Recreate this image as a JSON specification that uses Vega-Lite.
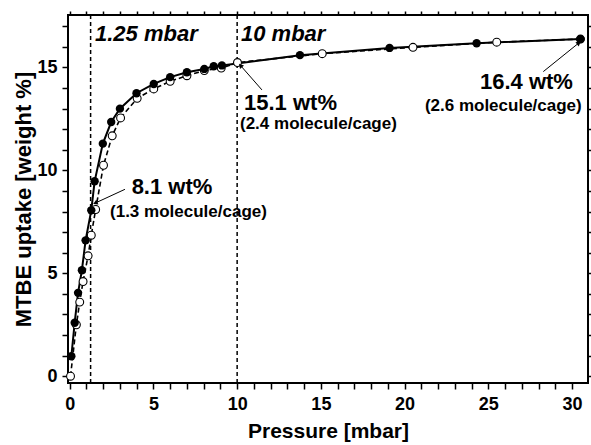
{
  "$schema": "https://vega.github.io/schema/vega-lite/v6.json",
  "width": 520,
  "height": 368,
  "autosize": "none",
  "padding": {"left": 68, "top": 15, "right": 3, "bottom": 62},
  "background": "white",
  "config": {
    "view": {"stroke": "black", "strokeWidth": 2},
    "font": "Liberation Sans",
    "axis": {
      "domain": false,
      "grid": false,
      "tickColor": "black",
      "tickWidth": 1.5,
      "tickSize": 6,
      "labelColor": "black",
      "labelFont": "Liberation Sans",
      "labelFontWeight": "bold",
      "labelFontSize": 18,
      "labelOverlap": false,
      "labelFlush": false,
      "titleFont": "Liberation Sans",
      "titleFontWeight": "bold",
      "titleColor": "black",
      "titleFontSize": 21
    }
  },
  "datasets": {
    "iso": [
      {"branch": "filled", "p": 0.1, "w": 0.97},
      {"branch": "filled", "p": 0.3, "w": 2.6},
      {"branch": "filled", "p": 0.5, "w": 4.05},
      {"branch": "filled", "p": 0.73, "w": 5.15},
      {"branch": "filled", "p": 0.95, "w": 6.6},
      {"branch": "filled", "p": 1.29, "w": 8.06},
      {"branch": "filled", "p": 1.49, "w": 9.47},
      {"branch": "filled", "p": 1.98, "w": 11.3},
      {"branch": "filled", "p": 2.48, "w": 12.35},
      {"branch": "filled", "p": 3.0, "w": 13.0},
      {"branch": "filled", "p": 3.99, "w": 13.75},
      {"branch": "filled", "p": 5.02, "w": 14.2},
      {"branch": "filled", "p": 6.0, "w": 14.53},
      {"branch": "filled", "p": 7.0, "w": 14.77},
      {"branch": "filled", "p": 8.04, "w": 14.93},
      {"branch": "filled", "p": 8.6, "w": 15.06},
      {"branch": "filled", "p": 9.09, "w": 15.1},
      {"branch": "filled", "p": 13.75, "w": 15.6},
      {"branch": "filled", "p": 19.1, "w": 15.95},
      {"branch": "filled", "p": 24.3, "w": 16.18},
      {"branch": "filled", "p": 30.5, "w": 16.38},
      {"branch": "open", "p": 0.05, "w": 0.0},
      {"branch": "open", "p": 0.4, "w": 2.5},
      {"branch": "open", "p": 0.6, "w": 3.6},
      {"branch": "open", "p": 0.8, "w": 4.6},
      {"branch": "open", "p": 1.1, "w": 5.85},
      {"branch": "open", "p": 1.29, "w": 6.85},
      {"branch": "open", "p": 1.55, "w": 8.1},
      {"branch": "open", "p": 2.02, "w": 10.25},
      {"branch": "open", "p": 2.54, "w": 11.68},
      {"branch": "open", "p": 3.04, "w": 12.55},
      {"branch": "open", "p": 4.03, "w": 13.5},
      {"branch": "open", "p": 5.02, "w": 13.96},
      {"branch": "open", "p": 6.0, "w": 14.33},
      {"branch": "open", "p": 7.0, "w": 14.6},
      {"branch": "open", "p": 8.04, "w": 14.85},
      {"branch": "open", "p": 9.05, "w": 14.97},
      {"branch": "open", "p": 10.02, "w": 15.24},
      {"branch": "open", "p": 15.08, "w": 15.67},
      {"branch": "open", "p": 20.5, "w": 15.98},
      {"branch": "open", "p": 25.5, "w": 16.23},
      {"branch": "open", "p": 30.5, "w": 16.38}
    ],
    "refs": [{"p": 1.25}, {"p": 10}],
    "pressureLabels": [
      {"p": 1.51, "w": 16.3, "label": "1.25 mbar"},
      {"p": 10.23, "w": 16.3, "label": "10 mbar"}
    ],
    "uptakeLabels": [
      {"p": 3.7, "w": 8.85, "label": "8.1 wt%"},
      {"p": 10.41, "w": 12.95, "label": "15.1 wt%"},
      {"p": 24.5, "w": 13.95, "label": "16.4 wt%"}
    ],
    "cageLabels": [
      {"p": 2.41, "w": 7.73, "label": "(1.3 molecule/cage)"},
      {"p": 10.17, "w": 12.01, "label": "(2.4 molecule/cage)"},
      {"p": 21.21, "w": 12.89, "label": "(2.6 molecule/cage)"}
    ],
    "arrows": [
      {"id": "a1", "p": 3.3, "w": 9.08, "p2": 1.57, "w2": 8.43},
      {"id": "a2", "p": 11.48, "w": 13.91, "p2": 10.23, "w2": 15.07},
      {"id": "a3", "p": 28.28, "w": 14.8, "p2": 30.37, "w2": 16.17}
    ]
  },
  "resolve": {"axis": {"x": "independent", "y": "independent"}},
  "layer": [
    {
      "data": {"name": "refs"},
      "mark": {"type": "rule", "color": "black", "strokeWidth": 1.5, "strokeDash": [4, 3]},
      "encoding": {
        "x": {"field": "p", "type": "quantitative", "scale": {"domain": [-0.1, 30.95], "nice": false, "zero": false}, "axis": null}
      }
    },
    {
      "data": {"name": "iso"},
      "transform": [{"filter": "datum.branch === 'open'"}],
      "mark": {"type": "line", "color": "black", "strokeWidth": 1.6, "strokeDash": [5, 3]},
      "encoding": {
        "x": {"field": "p", "type": "quantitative", "scale": {"domain": [-0.1, 30.95], "nice": false, "zero": false},
          "axis": {"orient": "top", "values": [0,1,2,3,4,5,6,7,8,9,10,11,12,13,14,15,16,17,18,19,20,21,22,23,24,25,26,27,28,29,30], "labels": false, "title": null, "tickSize": 4}},
        "y": {"field": "w", "type": "quantitative", "scale": {"domain": [-0.33, 17.55], "nice": false, "zero": false},
          "axis": {"orient": "right", "values": [0,1,2,3,4,5,6,7,8,9,10,11,12,13,14,15,16,17], "labels": false, "title": null, "tickSize": 3}}
      }
    },
    {
      "data": {"name": "iso"},
      "transform": [{"filter": "datum.branch === 'filled'"}],
      "mark": {"type": "line", "color": "black", "strokeWidth": 2},
      "encoding": {
        "x": {"field": "p", "type": "quantitative", "scale": {"domain": [-0.1, 30.95], "nice": false, "zero": false},
          "axis": {"orient": "bottom", "title": "Pressure [mbar]", "values": [0,1,2,3,4,5,6,7,8,9,10,11,12,13,14,15,16,17,18,19,20,21,22,23,24,25,26,27,28,29,30], "labelExpr": "datum.value % 5 === 0 ? datum.label : ''", "labelPadding": 6, "titlePadding": 7}},
        "y": {"field": "w", "type": "quantitative", "scale": {"domain": [-0.33, 17.55], "nice": false, "zero": false},
          "axis": {"orient": "left", "title": "MTBE uptake [weight %]", "titleFontSize": 22, "values": [0,1,2,3,4,5,6,7,8,9,10,11,12,13,14,15,16,17], "labelExpr": "datum.value % 5 === 0 ? datum.label : ''", "labelPadding": 5, "titlePadding": 1}}
      }
    },
    {
      "data": {"name": "iso"},
      "transform": [{"filter": "datum.branch === 'open'"}],
      "mark": {"type": "point", "shape": "circle", "filled": true, "fill": "white", "stroke": "black", "strokeWidth": 1.1, "size": 62, "opacity": 1},
      "encoding": {
        "x": {"field": "p", "type": "quantitative", "axis": null},
        "y": {"field": "w", "type": "quantitative", "axis": null}
      }
    },
    {
      "data": {"name": "iso"},
      "transform": [{"filter": "datum.branch === 'filled'"}],
      "mark": {"type": "point", "shape": "circle", "filled": true, "color": "black", "size": 70, "opacity": 1},
      "encoding": {
        "x": {"field": "p", "type": "quantitative", "axis": null},
        "y": {"field": "w", "type": "quantitative", "axis": null}
      }
    },
    {
      "data": {"name": "arrows"},
      "mark": {"type": "rule", "color": "black", "strokeWidth": 1},
      "encoding": {
        "x": {"field": "p", "type": "quantitative", "axis": null},
        "y": {"field": "w", "type": "quantitative", "axis": null},
        "x2": {"field": "p2"},
        "y2": {"field": "w2"}
      }
    },
    {
      "data": {"name": "arrows"},
      "transform": [{"filter": "datum.id === 'a1'"}],
      "mark": {"type": "point", "shape": "triangle", "filled": true, "color": "black", "size": 28, "opacity": 1, "angle": 245},
      "encoding": {
        "x": {"field": "p2", "type": "quantitative", "axis": null},
        "y": {"field": "w2", "type": "quantitative", "axis": null}
      }
    },
    {
      "data": {"name": "arrows"},
      "transform": [{"filter": "datum.id === 'a2'"}],
      "mark": {"type": "point", "shape": "triangle", "filled": true, "color": "black", "size": 28, "opacity": 1, "angle": 319},
      "encoding": {
        "x": {"field": "p2", "type": "quantitative", "axis": null},
        "y": {"field": "w2", "type": "quantitative", "axis": null}
      }
    },
    {
      "data": {"name": "arrows"},
      "transform": [{"filter": "datum.id === 'a3'"}],
      "mark": {"type": "point", "shape": "triangle", "filled": true, "color": "black", "size": 28, "opacity": 1, "angle": 51},
      "encoding": {
        "x": {"field": "p2", "type": "quantitative", "axis": null},
        "y": {"field": "w2", "type": "quantitative", "axis": null}
      }
    },
    {
      "data": {"name": "pressureLabels"},
      "mark": {"type": "text", "align": "left", "baseline": "alphabetic", "font": "Liberation Sans", "fontSize": 22, "fontWeight": "bold", "fontStyle": "italic", "color": "black"},
      "encoding": {
        "x": {"field": "p", "type": "quantitative", "axis": null},
        "y": {"field": "w", "type": "quantitative", "axis": null},
        "text": {"field": "label"}
      }
    },
    {
      "data": {"name": "uptakeLabels"},
      "mark": {"type": "text", "align": "left", "baseline": "alphabetic", "font": "Liberation Sans", "fontSize": 22, "fontWeight": "bold", "color": "black"},
      "encoding": {
        "x": {"field": "p", "type": "quantitative", "axis": null},
        "y": {"field": "w", "type": "quantitative", "axis": null},
        "text": {"field": "label"}
      }
    },
    {
      "data": {"name": "cageLabels"},
      "mark": {"type": "text", "align": "left", "baseline": "alphabetic", "font": "Liberation Sans", "fontSize": 17, "fontWeight": "bold", "color": "black"},
      "encoding": {
        "x": {"field": "p", "type": "quantitative", "axis": null},
        "y": {"field": "w", "type": "quantitative", "axis": null},
        "text": {"field": "label"}
      }
    }
  ]
}
